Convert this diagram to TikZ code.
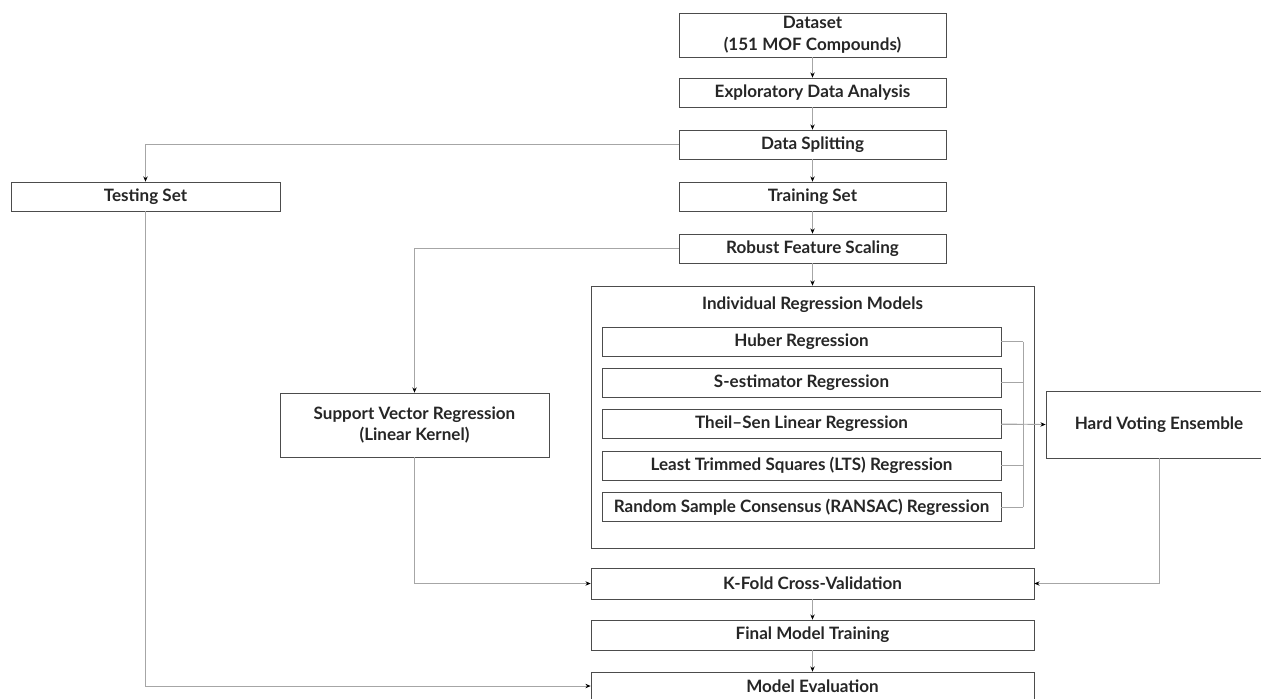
\documentclass[tikz,border=0pt]{standalone}
\usepackage{fontspec}
\setmainfont{Lato}
\usetikzlibrary{arrows.meta, calc}

\tikzset{
	stage/.style={draw=black!70, fill=white, align=center, inner sep=0pt,
		font=\fontsize{9.7}{12.5}\selectfont\bfseries, text=black!85},
	link/.style={draw=black!35, line width=0.5pt},
	flow/.style={link, -{Stealth[black, length=3pt, width=2.5pt]}},
}

\begin{document}
\begin{tikzpicture}[x=0.02cm, y=-0.02cm]
	\useasboundingbox (0,0) rectangle (1261,698);
	\def\W{5.34cm}
	\def\H{0.58cm}

	% main column
	\node[stage, minimum width=\W, minimum height=0.88cm] (data) at (812.5,35) {Dataset\\(151 MOF Compounds)};
	\node[stage, minimum width=\W, minimum height=\H] (eda) at (812.5,92.5) {Exploratory Data Analysis};
	\node[stage, minimum width=\W, minimum height=\H] (split) at (812.5,144.5) {Data Splitting};
	\node[stage, minimum width=\W, minimum height=\H] (train) at (812.5,196.5) {Training Set};
	\node[stage, minimum width=\W, minimum height=\H] (scale) at (812.5,248.5) {Robust Feature Scaling};
	\node[stage, minimum width=5.38cm, minimum height=\H] (test) at (145.5,196.5) {Testing Set};

	% individual models
	\node[stage, minimum width=8.86cm, minimum height=5.24cm] (models) at (812.5,417) {};
	\node[font=\fontsize{9.7}{12.5}\selectfont\bfseries, text=black!85] (title) at (812.5,305) {Individual Regression Models};
	\node[stage, minimum width=7.98cm, minimum height=\H] (huber) at (801.5,341.5) {Huber Regression};
	\node[stage, minimum width=7.98cm, minimum height=\H] (sest) at (801.5,382.5) {S-estimator Regression};
	\node[stage, minimum width=7.98cm, minimum height=\H] (theil) at (801.5,424) {Theil–Sen Linear Regression};
	\node[stage, minimum width=7.98cm, minimum height=\H] (lts) at (801.5,465.5) {Least Trimmed Squares (LTS) Regression};
	\node[stage, minimum width=7.98cm, minimum height=\H] (ransac) at (801.5,507) {Random Sample Consensus (RANSAC) Regression};

	\node[stage, minimum width=4.52cm, minimum height=1.34cm] (vote) at (1159,424.5) {Hard Voting Ensemble};
	\node[stage, minimum width=5.38cm, minimum height=1.28cm] (svr) at (414.5,425) {Support Vector Regression\\(Linear Kernel)};

	% evaluation
	\node[stage, minimum width=8.86cm, minimum height=0.62cm] (kfold) at (812.5,583.5) {K-Fold Cross-Validation};
	\node[stage, minimum width=8.86cm, minimum height=0.6cm] (final) at (812.5,635) {Final Model Training};
	\node[stage, minimum width=8.86cm, minimum height=0.56cm] (eval) at (812.5,686) {Model Evaluation};

	% connectors
	\draw[flow] (data) -- (eda);
	\draw[flow] (eda) -- (split);
	\draw[flow] (split) -- (train);
	\draw[flow] (train) -- (scale);
	\draw[flow] (scale) -- (models);
	\draw[flow] (split.west) -| (test.north);
	\draw[flow] (scale.west) -| (svr.north);
	\coordinate (bus) at (1023,0);
	\foreach \m in {huber, sest, theil, lts, ransac}	{
		\draw[link] (\m.east) -- (\m.east -| bus);
	}
	\draw[link] (huber.east -| bus) -- (ransac.east -| bus);
	\draw[flow] (theil.east) -- (vote.west);
	\draw[flow] (svr.south) |- (kfold.west);
	\draw[flow] (vote.south) |- (kfold.east);
	\draw[flow] (kfold) -- (final);
	\draw[flow] (final) -- (eval);
	\draw[flow] (test.south) |- (eval.west);
\end{tikzpicture}
\end{document}
